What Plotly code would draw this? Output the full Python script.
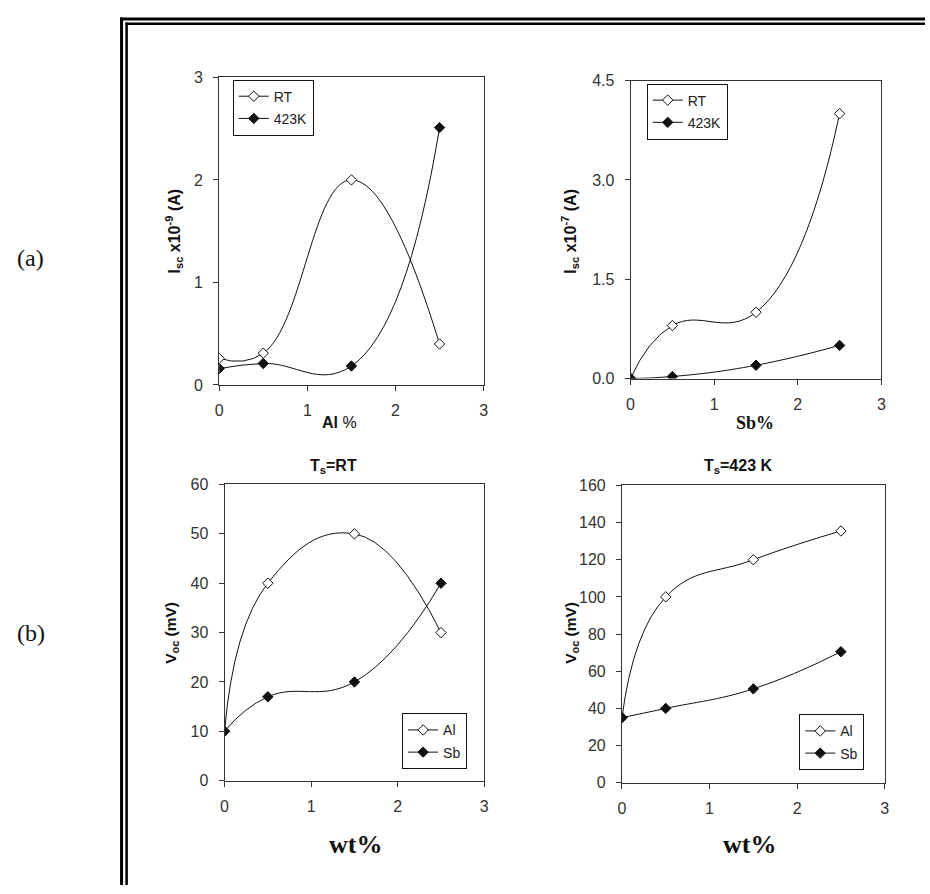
import plotly.graph_objects as go

W, H = 930, 894

# ---------------- data ----------------
x_pct = [0, 0.5, 1.5, 2.5]

# (a) left: Isc x1e-9 A vs Al %
isc_al_rt = [0.26, 0.31, 2.0, 0.40]
isc_al_423 = [0.16, 0.21, 0.185, 2.51]

# (a) right: Isc x1e-7 A vs Sb %
isc_sb_rt = [0.0, 0.80, 1.0, 4.0]
isc_sb_423 = [0.0, 0.03, 0.20, 0.50]

# (b) left: Voc (mV), Ts = RT
voc_rt_al = [10, 40, 50, 30]
voc_rt_sb = [10, 17, 20, 40]

# (b) right: Voc (mV), Ts = 423 K
voc_423_al = [35, 100, 120, 135.5]
voc_423_sb = [35, 40, 50.5, 70.5]

# ---------------- helpers ----------------
def px(x):
    return x / W

def py(y):
    return 1 - y / H

LINE = dict(color="#111111", width=1, shape="spline", smoothing=1.3)
OPEN = dict(symbol="diamond", size=8, color="white", line=dict(color="#111111", width=1))
FILL = dict(symbol="diamond", size=8, color="#111111", line=dict(color="#111111", width=1))

fig = go.Figure()

panels = [
    ("x", "y", isc_al_rt, isc_al_423, "RT", "423K", "legend"),
    ("x2", "y2", isc_sb_rt, isc_sb_423, "RT", "423K", "legend2"),
    ("x3", "y3", voc_rt_al, voc_rt_sb, "Al", "Sb", "legend3"),
    ("x4", "y4", voc_423_al, voc_423_sb, "Al", "Sb", "legend4"),
]
for i, (xa, ya, s1, s2, n1, n2, lg) in enumerate(panels):
    fig.add_trace(go.Scatter(x=x_pct, y=s1, name=n1, mode="lines+markers",
                             line=LINE, marker=OPEN, xaxis=xa, yaxis=ya,
                             legend=lg, legendgroup=f"g{i}a"))
    fig.add_trace(go.Scatter(x=x_pct, y=s2, name=n2, mode="lines+markers",
                             line=LINE, marker=FILL, xaxis=xa, yaxis=ya,
                             legend=lg, legendgroup=f"g{i}b"))

TICKFONT = dict(family="Liberation Sans, Arial, sans-serif", size=16, color="#333333")

def xaxis(domain, anchor):
    return dict(domain=domain, anchor=anchor, range=[0, 3], dtick=1, tick0=0,
                showline=True, linecolor="#333333", linewidth=1, mirror=True,
                ticks="outside", ticklen=5, tickcolor="#333333", showgrid=False,
                zeroline=False, tickfont=TICKFONT, ticklabelstandoff=6)

def yaxis(domain, anchor, rng, dtick, fmt=None):
    d = dict(domain=domain, anchor=anchor, range=rng, dtick=dtick, tick0=0,
             showline=True, linecolor="#333333", linewidth=1, mirror=True,
             ticks="outside", ticklen=5, tickcolor="#333333", showgrid=False,
             zeroline=False, tickfont=TICKFONT, ticklabelstandoff=7)
    if fmt:
        d["tickformat"] = fmt
    return d

dom = {
    1: ([px(217.3), px(484.3)], [py(384.3), py(70.7)]),
    2: ([px(632.7), px(886.0)], [py(377.7), py(74.0)]),
    3: ([px(222.7), px(485.0)], [py(787.7), py(485.7)]),
    4: ([px(624.0), px(889.3)], [py(789.7), py(486.7)]),
}

LEGFONT = dict(family="Liberation Sans, Arial, sans-serif", size=14, color="#222222")

def legend(x, y):
    return dict(x=px(x), y=py(y), xanchor="left", yanchor="top", xref="paper", yref="paper",
                bgcolor="white", bordercolor="#111111", borderwidth=1,
                font=LEGFONT, tracegroupgap=1, itemwidth=30)

fig.update_layout(
    width=W, height=H, autosize=False,
    margin=dict(l=0, r=0, t=0, b=0),
    paper_bgcolor="white", plot_bgcolor="white",
    showlegend=True,
    xaxis=xaxis(dom[1][0], "y"), yaxis=yaxis(dom[1][1], "x", [0, 3], 1),
    xaxis2=xaxis(dom[2][0], "y2"), yaxis2=yaxis(dom[2][1], "x2", [0, 4.5], 1.5, ".1f"),
    xaxis3=xaxis(dom[3][0], "y3"), yaxis3=yaxis(dom[3][1], "x3", [0, 60], 10),
    xaxis4=xaxis(dom[4][0], "y4"), yaxis4=yaxis(dom[4][1], "x4", [0, 160], 20),
    legend=legend(231, 73),
    legend2=legend(649, 77),
    legend3=legend(402, 719),
    legend4=legend(803, 720),
)

SANS = "Liberation Sans, Arial, sans-serif"
SERIF = "Liberation Serif, Times New Roman, serif"

def ann(text, x, y, size, family=SANS, angle=0, color="#111111"):
    fig.add_annotation(text=text, x=px(x), y=py(y), xref="paper", yref="paper",
                       showarrow=False, xanchor="center", yanchor="middle",
                       textangle=angle, font=dict(family=family, size=size, color=color))

# axis titles
ann("<b>I<sub>sc</sub> x10<sup>-9</sup> (A)</b>", 171.5, 227, 16, angle=-90)
ann("<b>Al</b> %", 339, 423, 16)
ann("<b>I<sub>sc</sub> x10<sup>-7</sup> (A)</b>", 571.5, 227, 16, angle=-90)
ann("<b>Sb%</b>", 758, 423, 18, family=SERIF)
ann("<b>V<sub>oc</sub> (mV)</b>", 169.5, 637, 15.5, angle=-90)
ann("<b>V<sub>oc</sub> (mV)</b>", 573.5, 637, 15.5, angle=-90)
ann("<b>T<sub>s</sub>=RT</b>", 333, 467, 16)
ann("<b>T<sub>s</sub>=423 K</b>", 741.5, 467, 16)
ann("<b>wt%</b>", 355, 853, 26, family=SERIF)
ann("<b>wt%</b>", 753, 853, 26, family=SERIF)
ann("(a)", 27, 255, 24, family=SERIF)
ann("(b)", 27, 637, 24, family=SERIF)

# double frame lines (top and left)
frame = [
    dict(x0=px(117.3), x1=1, y0=py(11.3), y1=py(11.3), w=3),
    dict(x0=px(122.5), x1=1, y0=py(16.0), y1=py(16.0), w=2.5),
    dict(x0=px(118.7), x1=px(118.7), y0=0, y1=py(9.8), w=3),
    dict(x0=px(123.8), x1=px(123.8), y0=0, y1=py(14.8), w=2.5),
]
for f in frame:
    fig.add_shape(type="line", xref="paper", yref="paper",
                  x0=f["x0"], x1=f["x1"], y0=f["y0"], y1=f["y1"],
                  line=dict(color="black", width=f["w"]))

fig.write_html("out.html")
